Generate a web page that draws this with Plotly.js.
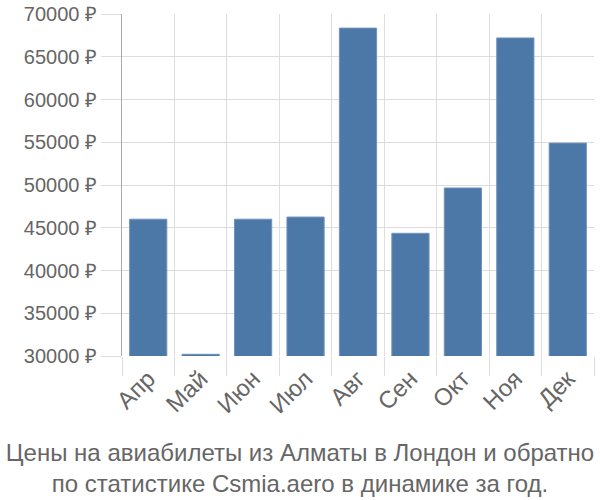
<!DOCTYPE html>
<html>
<head>
<meta charset="utf-8">
<script src="https://cdn.plot.ly/plotly-3.0.1.min.js"></script>
<style>html,body{margin:0;padding:0;background:#fff;}#chart{width:600px;height:500px;}</style>
</head>
<body>
<div id="chart"></div>
<script>
var months = ["Апр", "Май", "Июн", "Июл", "Авг", "Сен", "Окт", "Ноя", "Дек"];
var prices = [46000, 30200, 46000, 46250, 68350, 44350, 49650, 67200, 54900];
var yTicks = [30000, 35000, 40000, 45000, 50000, 55000, 60000, 65000, 70000];
var chartTitle = "Цены на авиабилеты из Алматы в Лондон и обратно<br>по статистике Csmia.aero в динамике за год.";

var trace = {
  type: "bar",
  x: months,
  y: prices,
  base: 0,
  marker: {color: "#4c78a8", line: {color: "#7393bb", width: 1}},
  hoverinfo: "x+y"
};

var layout = {
  width: 600,
  height: 500,
  margin: {l: 122, r: 6, t: 14, b: 144},
  paper_bgcolor: "#fff",
  plot_bgcolor: "#fff",
  bargap: 0.29,
  showlegend: false,
  font: {family: "Liberation Sans, Arial, sans-serif", color: "#666", size: 20},
  title: {
    text: chartTitle,
    font: {family: "Liberation Sans, Arial, sans-serif", size: 24, color: "#666"},
    x: 0.5, xanchor: "center",
    y: 0.078, yref: "container", yanchor: "middle"
  },
  xaxis: {
    type: "category",
    tickangle: -45,
    showgrid: true,
    gridcolor: "#dddddd",
    gridwidth: 1,
    tickson: "boundaries",
    ticks: "outside",
    ticklen: 19,
    tickcolor: "#dddddd",
    ticklabelstandoff: 3,
    tickfont: {size: 24, color: "#666"},
    showline: false,
    zeroline: false
  },
  yaxis: {
    range: [30000, 70000],
    tickvals: yTicks,
    ticktext: yTicks.map(function(v){ return v + " ₽"; }),
    showgrid: true,
    gridcolor: "#dddddd",
    gridwidth: 1,
    ticks: "outside",
    ticklen: 20,
    tickcolor: "#dddddd",
    tickfont: {size: 20, color: "#666"},
    showline: true,
    linecolor: "#aaaaaa",
    linewidth: 1,
    zeroline: false
  }
};

Plotly.newPlot("chart", [trace], layout, {displayModeBar: false, staticPlot: true});
</script>
</body>
</html>
